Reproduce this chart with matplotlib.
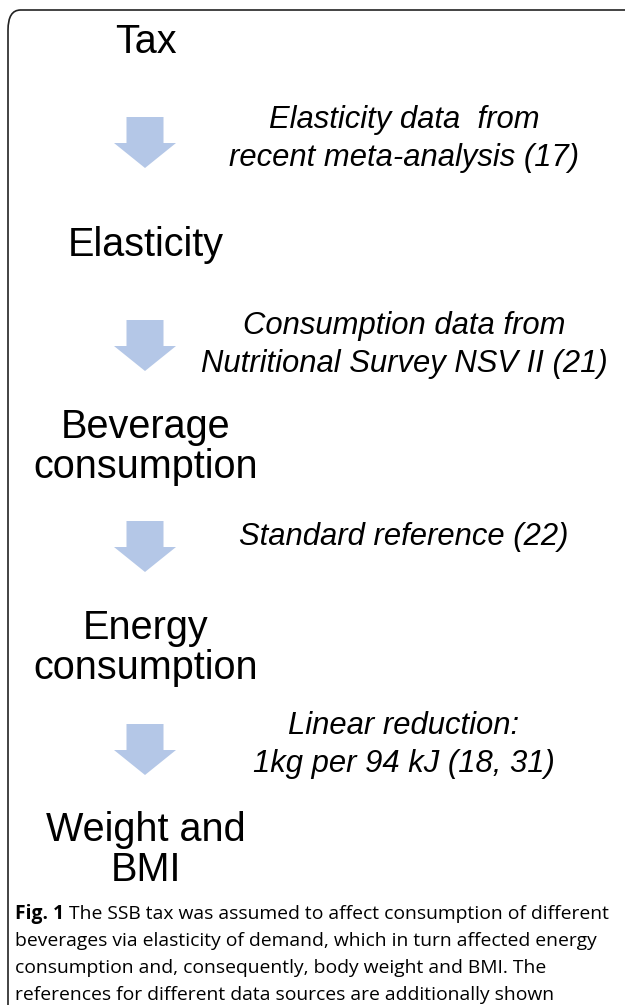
import matplotlib
matplotlib.use("Agg")
import matplotlib.pyplot as plt
from matplotlib.patches import FancyBboxPatch, FancyArrow

# boxes of the flow, top to bottom
steps = ["Tax", "Elasticity", "Beverage\nconsumption", "Energy\nconsumption", "Weight and\nBMI"]
# source notes next to each arrow
notes = ["Elasticity data  from\nrecent meta-analysis (17)",
         "Consumption data from\nNutritional Survey NSV II (21)",
         "Standard reference (22)",
         "Linear reduction:\n1kg per 94 kJ (18, 31)"]
caption_bold = "Fig. 1"
caption_lines = [" The SSB tax was assumed to affect consumption of different",
                 "beverages via elasticity of demand, which in turn affected energy",
                 "consumption and, consequently, body weight and BMI. The",
                 "references for different data sources are additionally shown"]

W, H = 625, 1005
fig = plt.figure(figsize=(W / 100, H / 100), dpi=100)
fig.patch.set_facecolor("white")

def fx(x):
    return x / W

def fy(y):
    return 1 - y / H

# frame with rounded top-left corner, running off the page
frame = FancyBboxPatch((fx(8), fy(1040)), fx(680), (1040 - 10) / H,
                       boxstyle="round,pad=0,rounding_size=0.02",
                       transform=fig.transFigure, fill=False,
                       edgecolor="#222222", linewidth=1.2)
fig.patches.append(frame)

step_y = [42, 245, 447, 648, 850]
arrow_top = [117, 320, 521, 724]
note_y = [139, 345, 537, 745]

for s, y in zip(steps, step_y):
    fig.text(fx(146), fy(y), s, ha="center", va="center", fontsize=28.5,
             family="Liberation Sans", linespacing=1.08)

for top, n, y in zip(arrow_top, notes, note_y):
    fig.patches.append(FancyArrow(fx(145), fy(top), 0, -(51 / H), width=37 / W,
                                  head_width=62 / W, head_length=25 / H,
                                  length_includes_head=True,
                                  transform=fig.transFigure,
                                  facecolor="#B4C7E7", edgecolor="none"))
    fig.text(fx(404), fy(y), n, ha="center", va="center", fontsize=22.3,
             style="italic", family="Liberation Sans", linespacing=1.36)

# caption, bold label then the rest
fig.canvas.draw()
r = fig.canvas.get_renderer()
t = fig.text(fx(15), fy(914), caption_bold, ha="left", va="center",
             fontsize=13.85, weight="bold", family="Open Sans")
bb = t.get_window_extent(renderer=r)
fig.text(bb.x1 / W, fy(914), caption_lines[0], ha="left", va="center",
         fontsize=13.85, family="Open Sans")
for i, line in enumerate(caption_lines[1:]):
    fig.text(fx(15), fy(941 + 27 * i), line, ha="left", va="center",
             fontsize=13.85, family="Open Sans")

fig.savefig("out.png", dpi=100)
